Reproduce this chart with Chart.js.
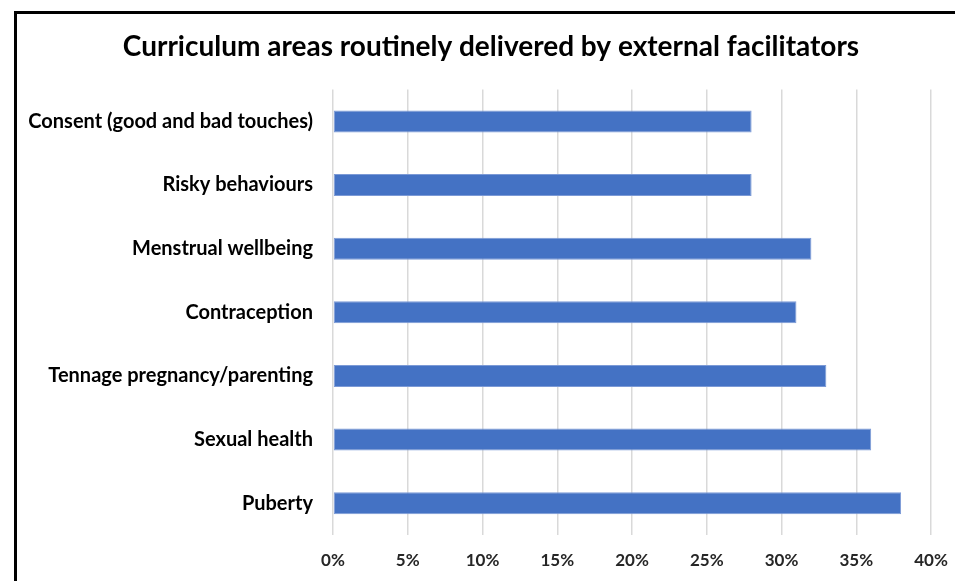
<!DOCTYPE html>
<html>
<head>
<meta charset="utf-8">
<script src="https://cdn.jsdelivr.net/npm/chart.js@4/dist/chart.umd.min.js"></script>
<style>
  html, body { margin: 0; padding: 0; background: #fff; }
  #wrap { position: relative; width: 955px; height: 581px; }
  #frame { position: absolute; left: 14px; top: 11px; right: 0; bottom: 0;
           border-left: 3px solid #000; border-top: 3px solid #000; pointer-events: none; }
  canvas { position: absolute; left: 0; top: 0; }
</style>
</head>
<body>
<div id="wrap">
  <canvas id="c" width="955" height="581"></canvas>
  <div id="frame"></div>
</div>
<script>
const chartTitle = "Curriculum areas routinely delivered by external facilitators";
const categories = [
  "Consent (good and bad touches)",
  "Risky behaviours",
  "Menstrual wellbeing",
  "Contraception",
  "Tennage pregnancy/parenting",
  "Sexual health",
  "Puberty"
];
const values = [28, 28, 32, 31, 33, 36, 38];
const axisMin = 0;
const axisMax = 40;
const axisStep = 5;

const FONT = "Lato, 'Open Sans', sans-serif";

// shift the title so it is centred where the reference centres it
const titleShift = {
  id: 'titleShift',
  afterLayout(chart) {
    const t = chart.titleBlock;
    if (t) { t.left = 51; t.right = 931; }
  }
};

new Chart(document.getElementById('c'), {
  type: 'bar',
  data: {
    labels: categories,
    datasets: [{
      data: values,
      backgroundColor: '#4472C4',
      borderColor: '#7C9AD6',
      borderWidth: 1,
      borderSkipped: false,
      categoryPercentage: 1,
      barPercentage: 0.345
    }]
  },
  plugins: [titleShift],
  options: {
    indexAxis: 'y',
    responsive: false,
    animation: false,
    devicePixelRatio: 1,
    layout: { padding: { left: 0, right: 24, top: 0, bottom: 0 } },
    plugins: {
      legend: { display: false },
      tooltip: { enabled: false },
      title: {
        display: true,
        text: chartTitle,
        color: '#000',
        font: { family: FONT, size: 28, weight: 'bold', lineHeight: 1.2 },
        padding: { top: 30, bottom: 26 }
      }
    },
    scales: {
      x: {
        min: axisMin,
        max: axisMax,
        ticks: {
          stepSize: axisStep,
          callback: v => v + '%',
          color: '#262626',
          font: { family: FONT, size: 17, weight: 'bold' },
          padding: 15,
          maxRotation: 0
        },
        grid: { color: '#d9d9d9', lineWidth: 1.5, drawTicks: false },
        border: { display: false },
        afterFit: s => { s.height = 46; s.paddingLeft = 0; s.paddingRight = 0; }
      },
      y: {
        ticks: {
          color: '#000',
          font: { family: FONT, size: 20, weight: 'bold' },
          padding: 20
        },
        grid: { display: false, drawTicks: false },
        border: { display: false },
        afterFit: s => { s.width = 333; }
      }
    }
  }
});
</script>
</body>
</html>
